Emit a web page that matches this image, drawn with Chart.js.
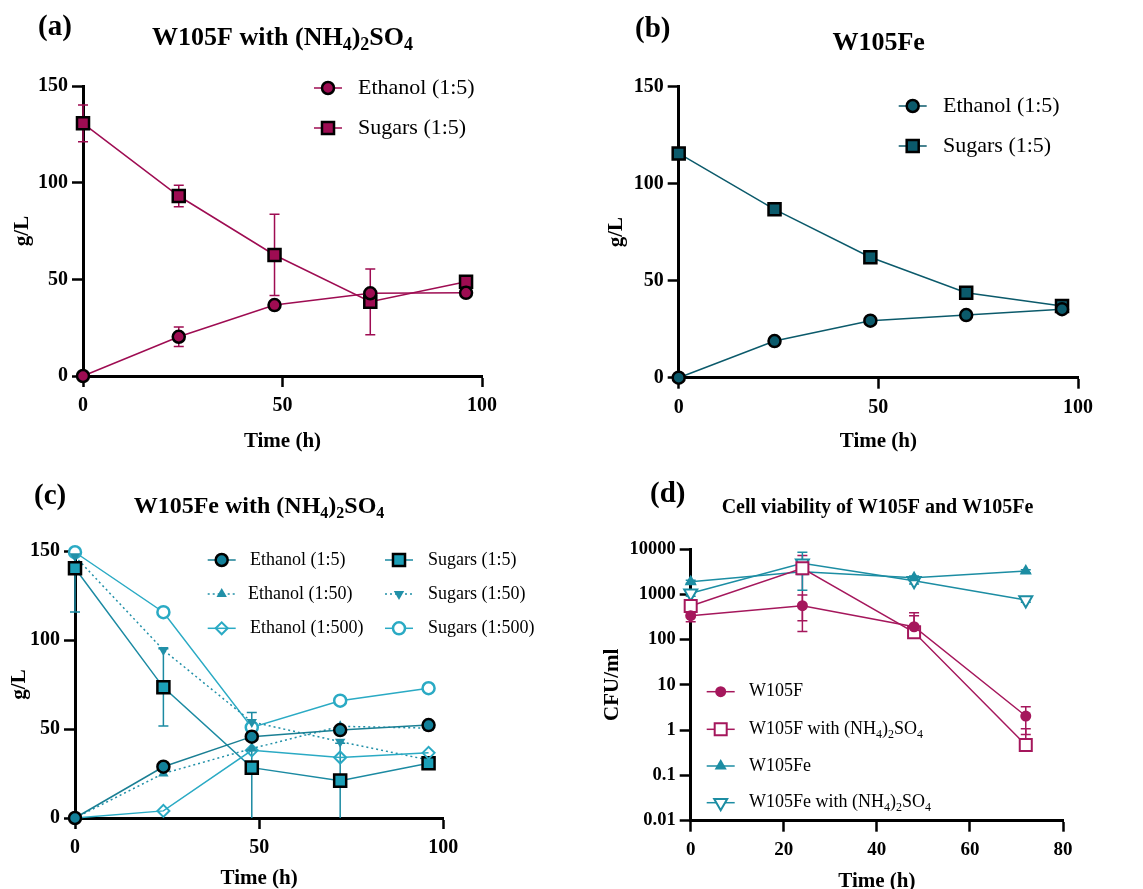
<!DOCTYPE html>
<html>
<head>
<meta charset="utf-8">
<script src="https://cdn.jsdelivr.net/npm/chart.js@4.4.0/dist/chart.umd.min.js"></script>
<style>
    html, body { margin: 0; padding: 0; background: #fff; overflow: hidden; }
    #wrap { position: relative; width: 1143px; height: 889px; }
    canvas { position: absolute; }
</style>
</head>
<body>
<div id="wrap">
    <canvas id="chartA" width="570" height="460" style="left:0;top:0"></canvas>
    <canvas id="chartB" width="573" height="460" style="left:570px;top:0"></canvas>
    <canvas id="chartC" width="570" height="452" style="left:0;top:445px"></canvas>
    <canvas id="chartD" width="573" height="452" style="left:570px;top:445px"></canvas>
</div>
<script>
// time points (h)
const hours = [0, 24, 48, 72, 96];
const hoursD = [0, 24, 48, 72];
const cfuTicks = [0.01, 0.1, 1, 10, 100, 1000, 10000];

// (a) W105F with (NH4)2SO4, g/L
const ethanolA = [0, 20.3, 36.7, 42.8, 43];
const ethanolErrA = [0, 5, 1, 1.5, 0.5];
const sugarsA = [130.7, 93.1, 62.6, 38.4, 48.8];
const sugarsErrA = [9.5, 5.5, 21, 17, 1];

// (b) W105Fe, g/L
const ethanolB = [0, 18.9, 29.4, 32.3, 35.3];
const sugarsB = [115.6, 86.8, 62.1, 43.8, 36.9];

// (c) W105Fe with (NH4)2SO4, g/L
const ethanol5C = [0, 28.8, 45.7, 49.4, 52.2];
const ethanol50C = [0, 25, 39, 51.5, 50.5];
const ethanol500C = [0, 4, 38, 34, 36.6];
const sugars5C = [140.3, 73.4, 28.3, 21, 30.7];
const sugars5ErrC = [24.5, 21.7, 31, 21, 1];
const sugars50C = [147, 94.4, 54, 42.9, 32.6];
const sugars500C = [149.3, 115.6, 50.9, 65.9, 72.9];

// (d) cell viability, CFU/ml
const w105f = [337, 560, 192, 2.05];
const w105fErr = [90, 410, 200, 1.25];
const w105fNH = [551, 3740, 145, 0.47];
const w105fNHErr = [120, 3480, 190, 0.6];
const w105fe = [1900, 3150, 2320, 3250];
const w105feErr = [150, 300, 200, 250];
const w105feNH = [1050, 4830, 1990, 748];
const w105feNHErr = [150, 3600, 300, 80];

const serif = '"Liberation Serif", "Times New Roman", serif';
const subChars = '₀₁₂₃₄₅₆₇₈₉';

// text with unicode subscript digits drawn as real smaller lowered text
function drawRich(ctx, text, x, y, size, bold, align) {
    const parts = [];
    for (const ch of text) {
        const sub = subChars.indexOf(ch) >= 0;
        const c = sub ? String(subChars.indexOf(ch)) : ch;
        const last = parts[parts.length - 1];
        if (last && last.sub === sub) last.t += c;
        else parts.push({t: c, sub: sub});
    }
    const w = bold ? 'bold ' : '';
    const fMain = w + size + 'px ' + serif;
    const fSub = w + Math.round(size * 0.68) + 'px ' + serif;
    let total = 0;
    parts.forEach(p => {
        ctx.font = p.sub ? fSub : fMain;
        p.w = ctx.measureText(p.t).width;
        total += p.w;
    });
    let cx = align === 'center' ? x - total / 2 : x;
    ctx.textAlign = 'left';
    ctx.textBaseline = 'middle';
    parts.forEach(p => {
        ctx.font = p.sub ? fSub : fMain;
        ctx.fillText(p.t, cx, p.sub ? y + size * 0.3 : y);
        cx += p.w;
    });
}

const errorBars = {
    id: 'errorBars',
    beforeDatasetsDraw(chart) {
        const {ctx, chartArea} = chart;
        const yScale = chart.scales.y;
        chart.data.datasets.forEach((ds, i) => {
            if (!ds.errors) return;
            const meta = chart.getDatasetMeta(i);
            ctx.save();
            ctx.beginPath();
            ctx.rect(chartArea.left - 10, chartArea.top, chartArea.width + 20, chartArea.height);
            ctx.clip();
            ctx.strokeStyle = ds.borderColor;
            ctx.lineWidth = 1.5;
            meta.data.forEach((pt, j) => {
                const v = ds.data[j].y, e = ds.errors[j];
                if (!e) return;
                let lo = v - e;
                if (yScale.type === 'logarithmic' && lo <= 0) lo = v;
                const yHi = yScale.getPixelForValue(v + e);
                const yLo = yScale.getPixelForValue(Math.max(lo, yScale.min));
                ctx.beginPath();
                ctx.moveTo(pt.x, yHi);
                ctx.lineTo(pt.x, yLo);
                ctx.moveTo(pt.x - 5, yHi);
                ctx.lineTo(pt.x + 5, yHi);
                if (lo !== v && lo > yScale.min) {
                    ctx.moveTo(pt.x - 5, yLo);
                    ctx.lineTo(pt.x + 5, yLo);
                }
                ctx.stroke();
            });
            ctx.restore();
        });
    }
};

const panelText = {
    id: 'panelText',
    afterDraw(chart, args, opts) {
        const ctx = chart.ctx;
        ctx.save();
        ctx.fillStyle = '#000';
        ctx.textBaseline = 'middle';
        ctx.textAlign = 'left';
        ctx.font = 'bold 29px ' + serif;
        ctx.fillText(opts.letter, opts.letterX, opts.letterY);
        drawRich(ctx, opts.title, opts.titleX, opts.titleY, opts.titleSize, true, 'center');
        opts.legend.forEach(item => {
            const ds = chart.data.datasets[item.index];
            ctx.save();
            ctx.strokeStyle = ds.borderColor;
            ctx.lineWidth = ds.borderWidth;
            ctx.setLineDash(ds.borderDash || []);
            ctx.beginPath();
            ctx.moveTo(item.x - 14, item.y);
            ctx.lineTo(item.x + 14, item.y);
            ctx.stroke();
            ctx.restore();
            ctx.fillStyle = ds.pointBackgroundColor;
            ctx.strokeStyle = ds.pointBorderColor;
            ctx.lineWidth = ds.pointBorderWidth;
            Chart.helpers.drawPoint(ctx, {
                pointStyle: ds.pointStyle,
                radius: ds.pointRadius,
                rotation: ds.pointRotation || 0,
                borderWidth: ds.pointBorderWidth
            }, item.x, item.y);
            ctx.fillStyle = '#000';
            drawRich(ctx, ds.label, item.textX, item.y, opts.legendSize, false, 'left');
        });
        ctx.restore();
    }
};

function series(label, xs, ys, errs, color, style, extra) {
    return Object.assign({
        label: label,
        data: xs.map((x, i) => ({x: x, y: ys[i]})),
        errors: errs,
        borderColor: color,
        borderWidth: 1.5,
        pointStyle: style,
        pointRadius: 6,
        pointBackgroundColor: color,
        pointBorderColor: '#000',
        pointBorderWidth: 2.5,
        pointHoverRadius: 6,
        fill: false,
        tension: 0,
        clip: false
    }, extra || {});
}

function makeChart(id, box, datasets, xMax, xStep, yOpts, panel) {
    const canvas = document.getElementById(id);
    const W = canvas.width, H = canvas.height;
    const tickFont = {family: serif, size: panel.tickSize, weight: 'bold'};
    const titleFont = {family: serif, size: 21, weight: 'bold'};
    const axisGrid = {display: true, drawOnChartArea: false, drawTicks: true, tickLength: 11, tickWidth: 2.5, tickColor: '#000'};
    const axisBorder = {display: true, color: '#000', width: 3};
    return new Chart(canvas.getContext('2d'), {
        type: 'line',
        data: {datasets: datasets},
        options: {
            responsive: false,
            animation: false,
            devicePixelRatio: 1,
            events: [],
            layout: {padding: {left: 0, top: box.top, right: W - box.right, bottom: 0}},
            scales: {
                x: {
                    type: 'linear', min: 0, max: xMax,
                    ticks: {stepSize: xStep, color: '#000', font: tickFont, padding: 7, maxRotation: 0},
                    grid: axisGrid,
                    border: axisBorder,
                    title: {display: true, text: 'Time (h)', color: '#000', font: titleFont, padding: {top: 0, bottom: panel.xTitlePad}},
                    afterFit(scale) { scale.height = H - box.bottom; }
                },
                y: Object.assign({
                    ticks: {color: '#000', font: tickFont, padding: 4},
                    grid: axisGrid,
                    border: axisBorder,
                    title: {display: true, text: panel.yTitle, color: '#000', font: titleFont, padding: {top: panel.yTitlePad, bottom: 0}},
                    afterFit(scale) { scale.width = box.left; }
                }, yOpts)
            },
            plugins: {
                legend: {display: false},
                tooltip: {enabled: false},
                panelText: panel
            }
        },
        plugins: [errorBars, panelText]
    });
}

const gLAxis = {type: 'linear', min: 0, max: 150, ticks: {stepSize: 50, color: '#000', font: {family: serif, size: 20, weight: 'bold'}, padding: 4}};

// (a)
const colA = '#9e0c52';
makeChart('chartA', {left: 83, right: 482, top: 86, bottom: 376}, [
    series('Ethanol (1:5)', hours, ethanolA, ethanolErrA, colA, 'circle'),
    series('Sugars (1:5)', hours, sugarsA, sugarsErrA, colA, 'rect', {pointRadius: 8.5})
], 100, 50, gLAxis, {
    tickSize: 20, yTitle: 'g/L', yTitlePad: 10, xTitlePad: 6,
    letter: '(a)', letterX: 38, letterY: 28,
    title: 'W105F with (NH₄)₂SO₄', titleX: 282.5, titleY: 38, titleSize: 26,
    legendSize: 22,
    legend: [
        {index: 0, x: 328, y: 88, textX: 358},
        {index: 1, x: 328, y: 128, textX: 358}
    ]
});

// (b)
const colB = '#0b5a6b';
makeChart('chartB', {left: 108.7, right: 508, top: 86.7, bottom: 377.7}, [
    series('Ethanol (1:5)', hours, ethanolB, null, colB, 'circle'),
    series('Sugars (1:5)', hours, sugarsB, null, colB, 'rect', {pointRadius: 8.5})
], 100, 50, gLAxis, {
    tickSize: 20, yTitle: 'g/L', yTitlePad: 34, xTitlePad: 6,
    letter: '(b)', letterX: 65, letterY: 30,
    title: 'W105Fe', titleX: 308.7, titleY: 43, titleSize: 26,
    legendSize: 22,
    legend: [
        {index: 0, x: 342.7, y: 106, textX: 373},
        {index: 1, x: 342.7, y: 146, textX: 373}
    ]
});

// (c)
const colC5 = '#1a7f94', colC5fill = '#12809a', colCS5 = '#1b8aa2', colCS5fill = '#1c9fb7';
const colC50 = '#2190a8', colC500 = '#2aaac4';
makeChart('chartC', {left: 75, right: 443.3, top: 106, bottom: 373}, [
    series('Ethanol (1:5)', hours, ethanol5C, null, colC5, 'circle', {pointBackgroundColor: colC5fill}),
    series('Ethanol (1:50)', hours, ethanol50C, null, colC50, 'triangle', {borderDash: [2, 3], pointRadius: 6, pointBorderWidth: 0, pointBorderColor: colC50}),
    series('Ethanol (1:500)', hours, ethanol500C, null, colC500, 'rectRot', {pointRadius: 6, pointBorderColor: colC500, pointBorderWidth: 2, pointBackgroundColor: 'rgba(255,255,255,0)'}),
    series('Sugars (1:5)', hours, sugars5C, sugars5ErrC, colCS5, 'rect', {pointRadius: 8.5, pointBackgroundColor: colCS5fill}),
    series('Sugars (1:50)', hours, sugars50C, null, colC50, 'triangle', {borderDash: [2, 3], pointRadius: 6, pointRotation: 180, pointBorderWidth: 0, pointBorderColor: colC50}),
    series('Sugars (1:500)', hours, sugars500C, null, colC500, 'circle', {pointRadius: 6, pointBorderColor: colC500, pointBorderWidth: 2.5, pointBackgroundColor: '#fff'})
], 100, 50, gLAxis, {
    tickSize: 20, yTitle: 'g/L', yTitlePad: 7.4, xTitlePad: 6,
    letter: '(c)', letterX: 34, letterY: 51.7,
    title: 'W105Fe with (NH₄)₂SO₄', titleX: 259, titleY: 61.7, titleSize: 24,
    legendSize: 18,
    legend: [
        {index: 0, x: 221.7, y: 115, textX: 250},
        {index: 1, x: 221.7, y: 149, textX: 248},
        {index: 2, x: 221.7, y: 183.3, textX: 250},
        {index: 3, x: 399, y: 115, textX: 428},
        {index: 4, x: 399, y: 149, textX: 428},
        {index: 5, x: 399, y: 183.3, textX: 428}
    ]
});

// (d)
const colDF = '#a5175c', colDFe = '#1c8da3';
makeChart('chartD', {left: 120.7, right: 493, top: 104, bottom: 375.7}, [
    series('W105F', hoursD, w105f, w105fErr, colDF, 'circle', {pointRadius: 5.5, pointBorderWidth: 0, pointBorderColor: colDF}),
    series('W105F with (NH₄)₂SO₄', hoursD, w105fNH, w105fNHErr, colDF, 'rect', {pointRadius: 8.5, pointBorderWidth: 2, pointBorderColor: colDF, pointBackgroundColor: '#fff'}),
    series('W105Fe', hoursD, w105fe, w105feErr, colDFe, 'triangle', {pointRadius: 7, pointBorderWidth: 0, pointBorderColor: colDFe}),
    series('W105Fe with (NH₄)₂SO₄', hoursD, w105feNH, w105feNHErr, colDFe, 'triangle', {pointRadius: 7.5, pointRotation: 180, pointBorderWidth: 2, pointBorderColor: colDFe, pointBackgroundColor: '#fff'})
], 80, 20, {
    type: 'logarithmic', min: 0.01, max: 10000,
    ticks: {color: '#000', font: {family: serif, size: 18.5, weight: 'bold'}, padding: 4, callback: v => String(v)},
    afterBuildTicks(scale) { scale.ticks = cfuTicks.map(v => ({value: v})); }
}, {
    tickSize: 19, yTitle: 'CFU/ml', yTitlePad: 30.4, xTitlePad: 3,
    letter: '(d)', letterX: 80, letterY: 50,
    title: 'Cell viability of W105F and W105Fe', titleX: 307.5, titleY: 63, titleSize: 20,
    legendSize: 18,
    legend: [
        {index: 0, x: 150.7, y: 246.7, textX: 179},
        {index: 1, x: 150.7, y: 284.3, textX: 179},
        {index: 2, x: 150.7, y: 321, textX: 179},
        {index: 3, x: 150.7, y: 357.7, textX: 179}
    ]
});
</script>
</body>
</html>
